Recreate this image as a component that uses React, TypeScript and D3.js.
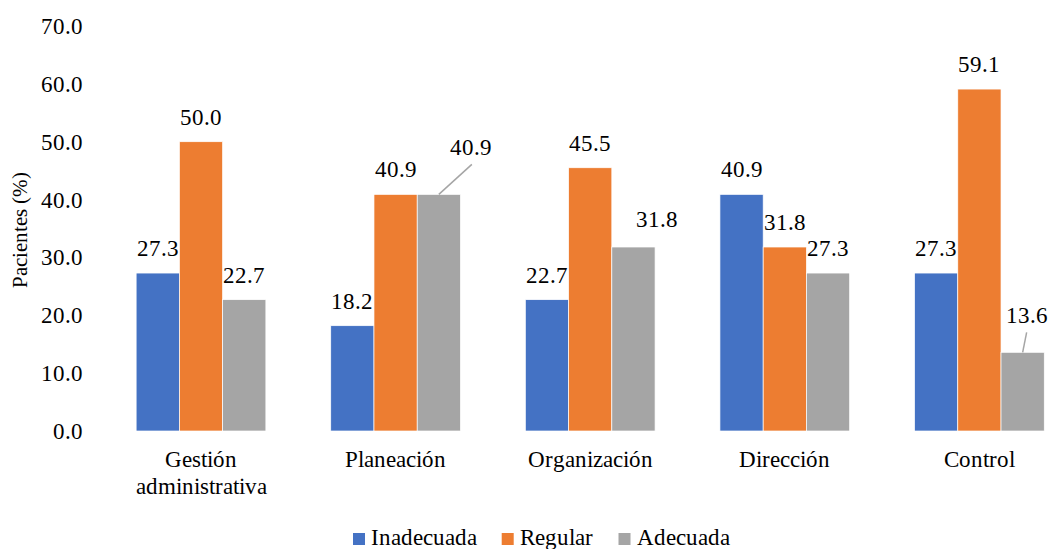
import React from 'react';
import * as d3 from 'd3';

const categories = ['Gestión administrativa', 'Planeación', 'Organización', 'Dirección', 'Control'];
const series = ['Inadecuada', 'Regular', 'Adecuada'];
const inadecuada = [27.3, 18.2, 22.7, 40.9, 27.3];
const regular = [50.0, 40.9, 45.5, 31.8, 59.1];
const adecuada = [22.7, 40.9, 31.8, 27.3, 13.6];
const yTicks = [0, 10, 20, 30, 40, 50, 60, 70];
const colors = ['#4472C4', '#ED7D31', '#A5A5A5'];

// labels that were dragged by hand in the original (offsets in px, leader line or not)
const movedLabels: Record<string, { dx: number; dy: number; leader: boolean }> = {
  'Planeación|Adecuada': { dx: 32, dy: -39, leader: true },
  'Organización|Adecuada': { dx: 24, dy: -20, leader: false },
  'Control|Adecuada': { dx: 4, dy: -29, leader: true },
};

const W = 1048;
const H = 549;
const FONT = "ChartSerif, 'Liberation Serif'";
const FS = 23;

const fontCss = `@font-face { font-family: 'ChartSerif'; src: local('Liberation Serif'), local('LiberationSerif'), local('LiberationSerif-Regular'), local('Times New Roman'); }`;

const measure = (s: string) => {
  const ctx = document.createElement('canvas').getContext('2d');
  if (!ctx) return s.length * 10.5;
  ctx.font = `${FS}px 'Liberation Serif'`;
  return ctx.measureText(s).width;
};

const App = () => {
  const values = [inadecuada, regular, adecuada];
  const rows = categories.map((c, i) => ({
    cat: c,
    vals: series.map((s, j) => ({ s, v: values[j][i], j })),
  }));

  const x = d3.scaleBand().domain(categories).range([103.7, 1076.7]).padding(0);
  const xs = d3.scaleBand().domain(series).range([0, x.bandwidth()]).paddingInner(0).paddingOuter(0.75);
  const y = d3.scaleLinear().domain([0, 70]).range([431, 26]);

  // legend layout
  let acc = 353;
  const legendPos = series.map(s => {
    const p = acc;
    acc += 18 + measure(s) + 26;
    return p;
  });

  return (
    <svg width={W} height={H} style={{ position: 'absolute', left: 0, top: 0, background: '#fff' }}>
      <style>{fontCss}</style>
      {yTicks.map(t => (
        <text key={t} x={83} y={y(t)} dy="0.35em" textAnchor="end" fontFamily={FONT} fontSize={FS}>
          {t.toFixed(1)}
        </text>
      ))}
      <text transform="translate(27,230) rotate(-90)" textAnchor="middle" fontFamily={FONT} fontSize={21}>
        Pacientes (%)
      </text>

      {rows.map(r => (
        <g key={r.cat} transform={`translate(${x(r.cat)},0)`}>
          {r.vals.map(d => (
            <rect
              key={d.s}
              x={xs(d.s)}
              y={y(d.v)}
              width={xs.bandwidth()}
              height={y(0) - y(d.v)}
              fill={colors[d.j]}
              stroke="#fff"
              strokeWidth={0.7}
            />
          ))}
        </g>
      ))}

      {rows.map(r =>
        r.vals.map(d => {
          const cx = x(r.cat)! + xs(d.s)! + xs.bandwidth() / 2;
          const top = y(d.v);
          const m = movedLabels[`${r.cat}|${d.s}`];
          const lx = cx + (m ? m.dx : 0);
          const ly = top + (m ? m.dy : -17);
          return (
            <g key={r.cat + d.s}>
              {m && m.leader && (
                <line
                  x1={cx}
                  y1={top}
                  x2={lx + (m.dx > 10 ? 1 : 0)}
                  y2={ly + 9}
                  stroke="#A5A5A5"
                  strokeWidth={1.5}
                />
              )}
              <text x={lx} y={ly} textAnchor="middle" fontFamily={FONT} fontSize={FS}>
                {d.v.toFixed(1)}
              </text>
            </g>
          );
        })
      )}

      {categories.map(c => {
        const cx = x(c)! + x.bandwidth() / 2;
        const parts = c === 'Gestión administrativa' ? ['Gestión', 'administrativa'] : [c];
        return (
          <text key={c} x={cx} y={467} textAnchor="middle" fontFamily={FONT} fontSize={FS}>
            {parts.map((p, i) => (
              <tspan key={p} x={cx} dy={i === 0 ? 0 : 26.5}>
                {p}
              </tspan>
            ))}
          </text>
        );
      })}

      {series.map((s, i) => (
        <g key={s} transform={`translate(${legendPos[i]},0)`}>
          <rect x={0} y={533} width={12} height={12} fill={colors[i]} />
          <text x={18} y={545} fontFamily={FONT} fontSize={FS}>
            {s}
          </text>
        </g>
      ))}
    </svg>
  );
};

export default App;
